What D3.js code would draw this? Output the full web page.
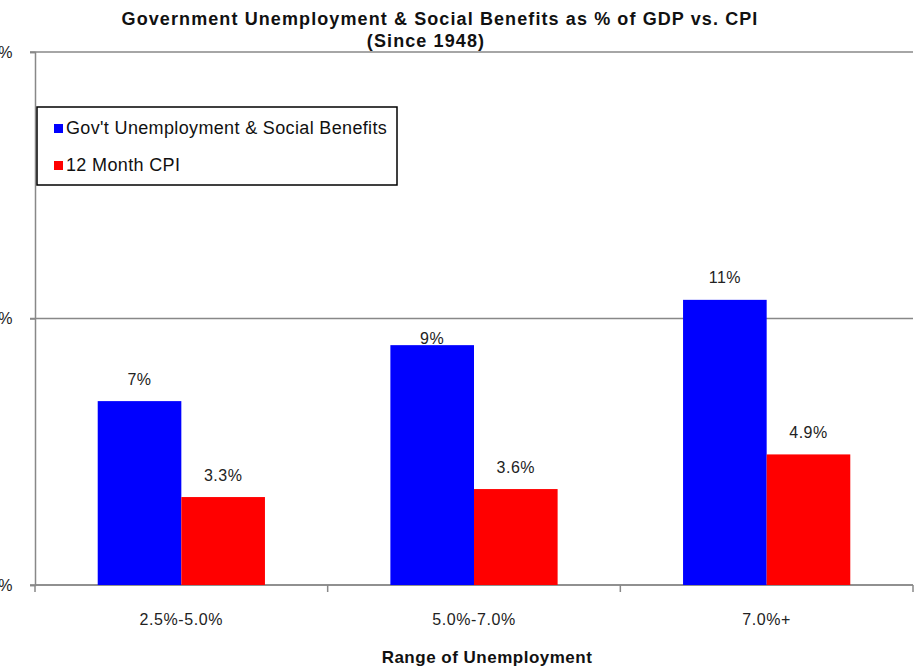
<!DOCTYPE html>
<html><head><meta charset="utf-8">
<script src="https://cdn.jsdelivr.net/npm/d3@7"></script>
<style>
body{margin:0;background:#fff;}
svg{display:block;font-family:"Liberation Sans",Arial,sans-serif;}
</style></head>
<body><svg id="c" width="919" height="668"></svg>
<script>
const categories = ["2.5%-5.0%", "5.0%-7.0%", "7.0%+"];
const seriesNames = ["Gov't Unemployment & Social Benefits", "12 Month CPI"];
const benefits = [6.9, 9.0, 10.7];
const cpi = [3.3, 3.6, 4.9];
const benefitLabels = ["7%", "9%", "11%"];
const cpiLabels = ["3.3%", "3.6%", "4.9%"];
const yTicks = [0, 10, 20];
const colors = ["#0000ff", "#ff0000"];
const labelLift = [[22, 22], [7, 22], [22, 22]];

(function () {
const svg = d3.select("#c");
const mL = 35, mR = 913, mT = 52, mB = 585;

const x = d3.scaleBand().domain(categories).range([mL, mR]).padding(0);
const x1 = d3.scaleBand().domain(seriesNames).range([0, x.bandwidth()]).paddingInner(0).paddingOuter(0.75);
const y = d3.scaleLinear().domain([0, 20]).range([mB, mT]);

// gridlines
svg.append("g").selectAll("line").data(yTicks).join("line")
  .attr("x1", mL - 5).attr("x2", mR)
  .attr("y1", d => y(d)).attr("y2", d => y(d))
  .attr("stroke", "#888").attr("stroke-width", 1.5);

// y axis
const yAxis = d3.axisLeft(y).tickValues(yTicks).tickFormat(d => d + "%").tickSize(5);
const gy = svg.append("g").attr("transform", `translate(${mL},0)`).call(yAxis);
gy.select(".domain").attr("stroke", "#888").attr("stroke-width", 1.5);
gy.selectAll(".tick line").attr("stroke", "#888").attr("stroke-width", 1.5);
gy.selectAll(".tick text").attr("x", -22).attr("font-size", 16).attr("fill", "#222")
  .attr("letter-spacing", 0.5)
  .attr("font-family", "'Liberation Sans',Arial,sans-serif");

// x axis
const gx = svg.append("g").attr("transform", `translate(0,${mB})`);
gx.append("line").attr("x1", mL).attr("x2", mR).attr("stroke", "#888").attr("stroke-width", 1.5);
const bounds = [mL].concat(categories.map(c => x(c) + x.bandwidth()));
gx.selectAll("line.t").data(bounds).join("line").attr("class", "t")
  .attr("x1", d => d).attr("x2", d => d).attr("y1", 0).attr("y2", 7)
  .attr("stroke", "#888").attr("stroke-width", 1.5);
gx.selectAll("text").data(categories).join("text")
  .attr("x", d => x(d) + x.bandwidth() / 2).attr("y", 40)
  .attr("text-anchor", "middle").attr("font-size", 16).attr("letter-spacing", 0.6)
  .attr("fill", "#222").text(d => d);

// bars
const data = categories.map((c, i) => ({c, i, vals: [
  {s: seriesNames[0], v: benefits[i], l: benefitLabels[i], k: 0},
  {s: seriesNames[1], v: cpi[i], l: cpiLabels[i], k: 1}]}));
const grp = svg.append("g").selectAll("g").data(data).join("g")
  .attr("transform", d => `translate(${x(d.c)},0)`);
grp.selectAll("rect").data(d => d.vals).join("rect")
  .attr("x", d => x1(d.s)).attr("width", x1.bandwidth())
  .attr("y", d => y(d.v)).attr("height", d => y(0) - y(d.v))
  .attr("fill", d => colors[d.k]);
grp.selectAll("text").data(d => d.vals.map(v => Object.assign({gi: d.i}, v))).join("text")
  .attr("x", d => x1(d.s) + x1.bandwidth() / 2)
  .attr("y", d => y(d.v) - labelLift[d.gi][d.k])
  .attr("dy", "0.35em")
  .attr("text-anchor", "middle").attr("font-size", 16).attr("letter-spacing", 0.5)
  .attr("fill", "#222").text(d => d.l);

// title
svg.append("text").attr("x", 440).attr("y", 25).attr("text-anchor", "middle")
  .attr("font-size", 18).attr("font-weight", "bold").attr("letter-spacing", 1.1).attr("fill", "#111")
  .text("Government Unemployment & Social Benefits as % of GDP vs. CPI");
svg.append("text").attr("x", 426).attr("y", 47).attr("text-anchor", "middle")
  .attr("font-size", 18).attr("font-weight", "bold").attr("letter-spacing", 1.1).attr("fill", "#111")
  .text("(Since 1948)");

// x axis title
svg.append("text").attr("x", 487).attr("y", 663).attr("text-anchor", "middle")
  .attr("font-size", 17).attr("font-weight", "bold").attr("letter-spacing", 0.5).attr("fill", "#111")
  .text("Range of Unemployment");

// legend
const lg = svg.append("g").attr("transform", "translate(37,107)");
lg.append("rect").attr("width", 360).attr("height", 78).attr("fill", "#fff")
  .attr("stroke", "#000").attr("stroke-width", 1.5);
const li = lg.selectAll("g").data(seriesNames).join("g")
  .attr("transform", (d, i) => `translate(17,${21 + i * 37})`);
li.append("rect").attr("x", 0).attr("y", -4).attr("width", 9).attr("height", 9)
  .attr("fill", (d, i) => colors[i]);
li.append("text").attr("x", 12).attr("y", 0).attr("dy", "0.35em")
  .attr("font-size", 18).attr("letter-spacing", 0.35).attr("fill", "#111").text(d => d);
})();
</script></body></html>
